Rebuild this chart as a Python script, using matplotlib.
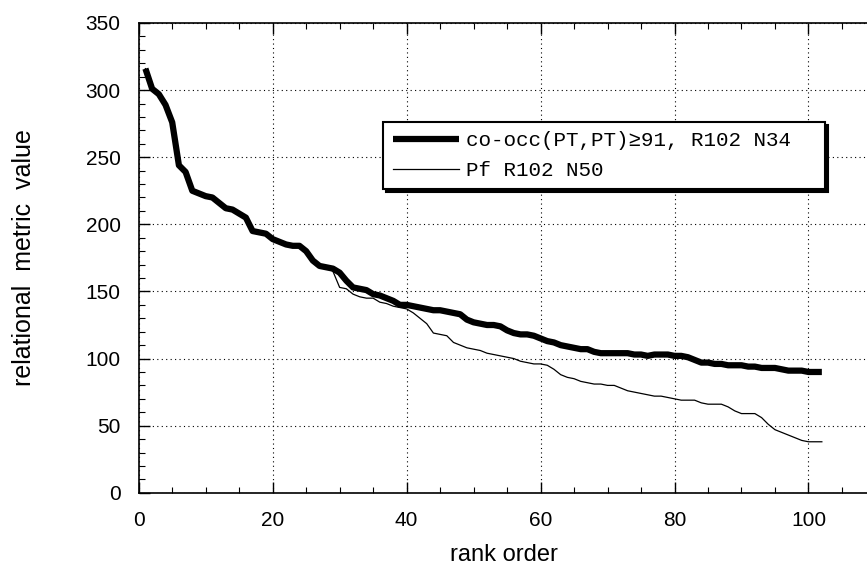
import numpy as np
import matplotlib
matplotlib.use("Agg")
import matplotlib.pyplot as plt
from matplotlib.ticker import MultipleLocator

# rank order 1..102
rank = np.arange(1, 103)

cooc = [316, 301, 297, 289, 276, 244, 239, 225, 223, 221,
        220, 216, 212, 211, 208, 205, 195, 194, 193, 189,
        187, 185, 184, 184, 180, 173, 169, 168, 167, 164,
        158, 153, 152, 151, 148, 147, 145, 143, 140, 140,
        139, 138, 137, 136, 136, 135, 134, 133, 129, 127,
        126, 125, 125, 124, 121, 119, 118, 118, 117, 115,
        113, 112, 110, 109, 108, 107, 107, 105, 104, 104,
        104, 104, 104, 103, 103, 102, 103, 103, 103, 102,
        102, 101, 99, 97, 97, 96, 96, 95, 95, 95,
        94, 94, 93, 93, 93, 92, 91, 91, 91, 90,
        90, 90]

pf = [316, 301, 297, 289, 276, 244, 239, 225, 223, 221,
      220, 216, 212, 211, 208, 205, 195, 194, 193, 189,
      187, 185, 184, 184, 180, 173, 169, 168, 165, 153,
      152, 148, 146, 145, 145, 142, 141, 139, 138, 137,
      134, 130, 126, 119, 118, 117, 112, 110, 108, 107,
      106, 104, 103, 102, 101, 100, 98, 97, 96, 96,
      95, 92, 88, 86, 85, 83, 82, 81, 81, 80,
      80, 78, 76, 75, 74, 73, 72, 72, 71, 70,
      69, 69, 69, 67, 66, 66, 66, 64, 61, 59,
      59, 59, 56, 51, 47, 45, 43, 41, 39, 38,
      38, 38]

labels = ["co-occ(PT,PT)\u226591, R102 N34  ", "Pf R102 N50"]

plt.rcParams['font.family'] = ['Liberation Sans', 'DejaVu Sans']

fig = plt.figure(figsize=(8.67, 5.75), dpi=100)
ax = fig.add_axes([0.160, 0.143, 0.842, 0.817])

ax.plot(rank, cooc, color='black', lw=4.5, solid_capstyle='butt', label=labels[0], zorder=3)
ax.plot(rank, pf, color='black', lw=0.9, label=labels[1], zorder=2)

ax.set_xlim(0, 109)
ax.set_ylim(0, 350)
ax.xaxis.set_major_locator(MultipleLocator(20))
ax.xaxis.set_minor_locator(MultipleLocator(5))
ax.yaxis.set_major_locator(MultipleLocator(50))
ax.yaxis.set_minor_locator(MultipleLocator(10))
ax.tick_params(which='both', direction='in', top=True, right=False, color='black')
ax.tick_params(which='major', length=8, width=1, labelsize=15, pad=13)
ax.tick_params(which='minor', length=4, width=0.8)
ax.grid(True, which='major', color='black', linestyle=(0, (1, 3)), lw=0.8)
for s in ['left', 'bottom', 'top']:
    ax.spines[s].set_linewidth(1.2)
ax.spines['right'].set_visible(False)

ax.set_xlabel('rank order', fontsize=17, labelpad=10)
ax.set_ylabel('relational  metric  value', fontsize=18, labelpad=36)

leg = ax.legend(loc='upper left', bbox_to_anchor=(0.335, 0.789), borderaxespad=0,
                prop={'family': ['Liberation Mono', 'DejaVu Sans Mono'], 'size': 15},
                frameon=True, fancybox=False, framealpha=1, edgecolor='black',
                shadow={'color': 'black', 'alpha': 1}, handlelength=3.2,
                handletextpad=0.3, borderpad=0.45, labelspacing=0.5)
leg.get_frame().set_linewidth(1.5)

fig.savefig('out.png', dpi=100)
